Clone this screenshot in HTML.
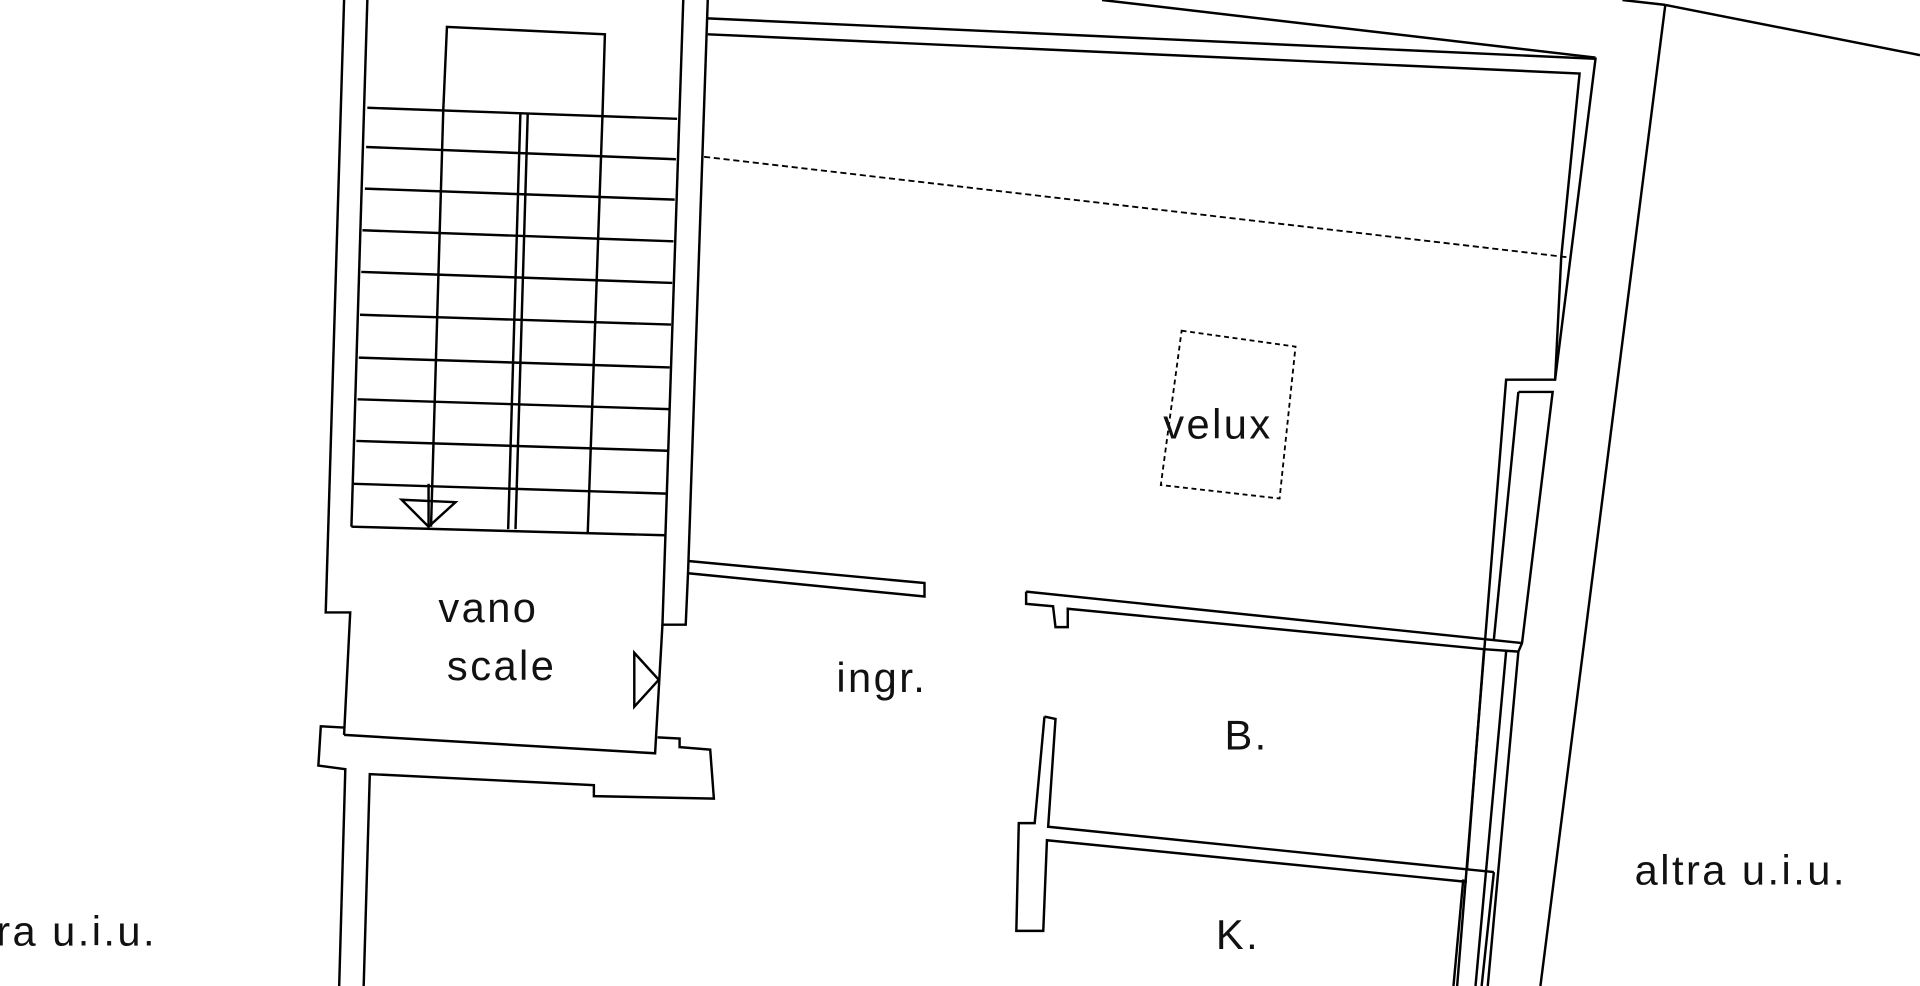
<!DOCTYPE html>
<html><head><meta charset="utf-8"><style>
html,body{margin:0;padding:0;background:#fff;width:1920px;height:986px;overflow:hidden}
svg{display:block}
text{font-family:"Liberation Sans",sans-serif;font-size:34px;fill:#111;letter-spacing:2px}
</style></head><body>
<svg width="1920" height="986" viewBox="0 0 1568 805" preserveAspectRatio="none" xmlns="http://www.w3.org/2000/svg">
<g fill="none" stroke="#000" stroke-width="2">
<polyline points="281,0 266,500 286,500 281,600"/>
<polyline points="300,0 287,430"/>
<polyline points="578,0 562,465"/>
<polyline points="558,0 541,510 560,510 562,465"/>
<polyline points="362,90 365,22 494,28 492,95"/>
<line x1="300" y1="88" x2="553" y2="97"/>
<line x1="299" y1="120" x2="552" y2="130"/>
<line x1="298" y1="154" x2="551" y2="163"/>
<line x1="296" y1="188" x2="550" y2="197"/>
<line x1="295" y1="222" x2="549" y2="231"/>
<line x1="294" y1="257" x2="548" y2="265"/>
<line x1="293" y1="292" x2="547" y2="300"/>
<line x1="292" y1="326" x2="546" y2="334"/>
<line x1="291" y1="360" x2="545" y2="368"/>
<line x1="289" y1="395" x2="544" y2="403"/>
<line x1="287" y1="430" x2="543" y2="437"/>
<line x1="362" y1="90" x2="352" y2="430"/>
<line x1="425" y1="92" x2="415" y2="432"/>
<line x1="431" y1="92" x2="421" y2="432"/>
<line x1="492" y1="95" x2="480" y2="435"/>
<polygon points="328,408 372,410 350,430"/>
<line x1="350" y1="395" x2="350" y2="430"/>
<polygon points="518,533 518,577 538,555"/>
<polyline points="281,600 535,615 541,510"/>
<polyline points="277,805 282,628 260,625 262,593 281,594"/>
<polyline points="297,805 302,632 485,641 485,650 583,652 580,612 555,610 555,603 537,602"/>
<polyline points="578,15 1303,48 1270,310 1230,310 1190,805"/>
<polyline points="578,28 1290,60 1275,210 1270,310"/>
<line x1="900" y1="0" x2="1303" y2="47"/>
<line x1="1325" y1="0" x2="1360" y2="4"/>
<line x1="1360" y1="4" x2="1568" y2="45"/>
<line x1="1360" y1="4" x2="1258" y2="805"/>
<polyline points="1240,320 1268,320 1243,525 1240,532 1215,805"/>
<line x1="1240" y1="320" x2="1220" y2="522"/>
<line x1="1212" y1="530" x2="1198" y2="710"/>
<line x1="1230" y1="532" x2="1205" y2="805"/>
<line x1="1195" y1="718" x2="1187" y2="805"/>
<line x1="1220" y1="712" x2="1210" y2="805"/>
<polyline points="562,458 755,476 755,487 562,468"/>
<polyline points="838,483 1243,525"/>
<polyline points="838,483 838,493 860,495 862,512 872,512 872,497 1212,530 1240,532"/>
<polyline points="853,585 862,587 856,675 1220,712"/>
<polyline points="853,585 845,672 832,672 830,760 852,760 855,686 1198,720"/>
<line x1="575" y1="128" x2="1280" y2="210" stroke-dasharray="5,3" stroke-width="1.5"/>
<polygon points="965,270 1058,283 1045,407 948,396" stroke-dasharray="4,3" stroke-width="1.5"/>
</g>
<text x="358" y="508">vano</text>
<text x="365" y="555">scale</text>
<text x="683" y="565">ingr.</text>
<text x="950" y="358">velux</text>
<text x="1000" y="612">B.</text>
<text x="993" y="775">K.</text>
<text x="1335" y="722">altra u.i.u.</text>
<text x="-45" y="772">altra u.i.u.</text>
</svg>
</body></html>
